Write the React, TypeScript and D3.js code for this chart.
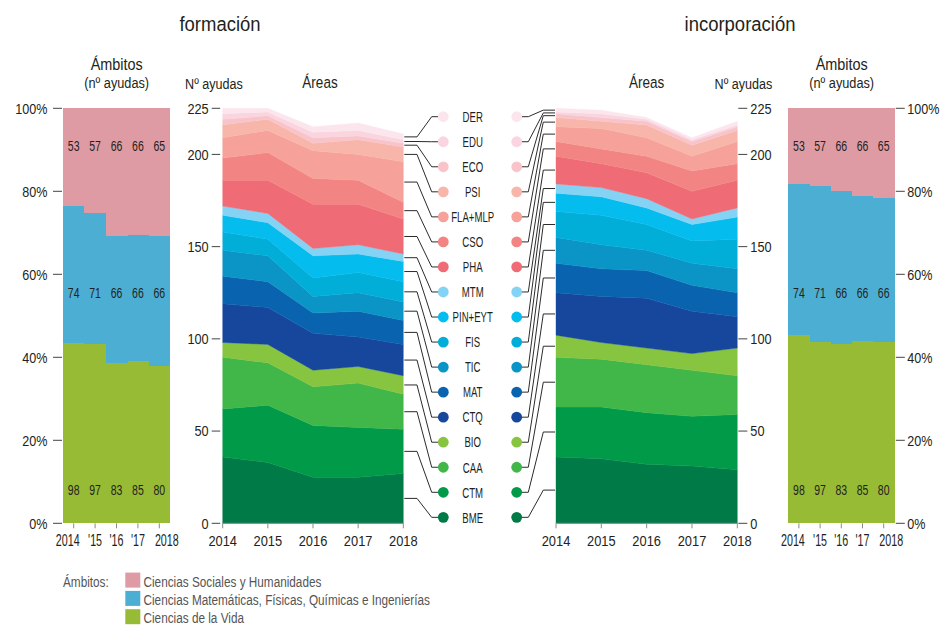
import React from 'react';
import * as d3 from 'd3';

const years = [2014, 2015, 2016, 2017, 2018];
const ambitoYearLabels = ['2014', "'15", "'16", "'17", '2018'];

// areas from bottom to top of the stack
const areaKeys = ['BME', 'CTM', 'CAA', 'BIO', 'CTQ', 'MAT', 'TIC', 'FIS', 'PIN+EYT', 'MTM', 'PHA', 'CSO', 'FLA+MLP', 'PSI', 'ECO', 'EDU', 'DER'];
const areaColors = ['#007a46', '#009a48', '#41b649', '#87c540', '#16479d', '#0a63af', '#0b94c6', '#00aed8', '#05bcef', '#84d3f4', '#ef6b76', '#f28583', '#f6a199', '#f8b6aa', '#f8c4c9', '#fad4df', '#fce6ee'];
// 0 = Vida, 1 = Mat/Fís/Quím/Ing, 2 = Sociales y Humanidades
const areaAmbito = [0, 0, 0, 0, 1, 1, 1, 1, 1, 1, 2, 2, 2, 2, 2, 2, 2];

// nº ayudas por área, formación (rows follow areaKeys)
const formacion = [
  [36, 33, 25, 25, 27], // BME
  [26, 31, 28, 27, 24], // CTM
  [28, 23, 21, 24, 19], // CAA
  [8, 10, 9, 9, 10],    // BIO
  [21, 20, 20, 16, 17], // CTQ
  [15, 14, 11, 14, 13], // MAT
  [14, 14, 9, 10, 10],  // TIC
  [10, 9, 10, 11, 11],  // FIS
  [9, 9, 12, 10, 11],   // PIN+EYT
  [5, 5, 4, 5, 4],      // MTM
  [14, 18, 24, 22, 19], // PHA
  [12, 15, 14, 13, 9],  // CSO
  [11, 12, 15, 14, 22], // FLA+MLP
  [7, 6, 4, 8, 8],      // PSI
  [3, 2, 3, 2, 2],      // ECO
  [3, 2, 3, 3, 2],      // EDU
  [3, 2, 3, 4, 3],      // DER
];

// nº ayudas por área, incorporación
const incorporacion = [
  [36, 35, 32, 31, 29], // BME
  [27, 28, 28, 27, 30], // CTM
  [27, 26, 26, 25, 21], // CAA
  [12, 9, 9, 9, 15],    // BIO
  [23, 25, 27, 23, 17], // CTQ
  [16, 15, 15, 14, 13], // MAT
  [14, 13, 11, 12, 13], // TIC
  [14, 16, 14, 12, 16], // FIS
  [10, 10, 9, 9, 12],   // PIN+EYT
  [5, 5, 5, 3, 5],      // MTM
  [15, 13, 14, 15, 15], // PHA
  [8, 8, 9, 11, 9],     // CSO
  [8, 11, 10, 8, 12],   // FLA+MLP
  [5, 4, 7, 6, 6],      // PSI
  [2, 2, 2, 2, 2],      // ECO
  [1, 2, 1, 1, 1],      // EDU
  [2, 2, 1, 1, 2],      // DER
];

const ambitoVida = [98, 97, 83, 85, 80];
const ambitoMat = [74, 71, 66, 66, 66];
const ambitoSoc = [53, 57, 66, 66, 65];
const ambitoNames = ['Ciencias de la Vida', 'Ciencias Matemáticas, Físicas, Químicas e Ingenierías', 'Ciencias Sociales y Humanidades'];
const ambitoColors = ['#97bb34', '#4daed3', '#df9ba3'];

const areaTicks = [0, 50, 100, 150, 200, 225];
const pctTicks = [0, 20, 40, 60, 80, 100];

const FONT = '"Liberation Sans", Arial, sans-serif';
const INK = '#231f20';

const Y0 = 523.3;
const Y1 = 108.3;
const yCount = d3.scaleLinear().domain([0, 225]).range([Y0, Y1]);
const yShare = d3.scaleLinear().domain([0, 1]).range([Y0, Y1]);

// condensed look: squeeze a regular sans horizontally
const Txt = ({ x, y, anchor = 'start', size = 15, sx = 0.82, fill = INK, dy, children }: any) => (
  <text
    transform={`translate(${x},${y}) scale(${sx},1)`}
    textAnchor={anchor}
    fontSize={size}
    dy={dy}
    fill={fill}
  >{children}</text>
);

function stackAreas(rows: number[][]) {
  const table = years.map((year, j) => {
    const o: any = { year };
    areaKeys.forEach((k, i) => { o[k] = rows[i][j]; });
    return o;
  });
  return d3.stack<any>().keys(areaKeys)(table);
}

const AreaChart = ({ rows, x0, x1, side }: { rows: number[][]; x0: number; x1: number; side: 'left' | 'right' }) => {
  const x = d3.scaleLinear().domain([2014, 2018]).range([x0, x1]);
  const series = stackAreas(rows);
  const area = d3.area<any>()
    .x(d => x(d.data.year))
    .y0(d => yCount(d[0]))
    .y1(d => yCount(d[1]));
  const tx0 = side === 'left' ? x0 - 11 : x1 + 1;
  const tx1 = side === 'left' ? x0 - 2.5 : x1 + 10;
  return (
    <g>
      {series.map((s, i) => (
        <path key={s.key} d={area(s) || ''} fill={areaColors[i]} stroke={areaColors[i]} strokeWidth={0.4} />
      ))}
      <line x1={x0} x2={x1} y1={Y0} y2={Y0} stroke="#8a8a8a" strokeWidth={1} />
      {years.map(yr => (
        <g key={yr}>
          <line x1={x(yr)} x2={x(yr)} y1={Y0} y2={Y0 + 5} stroke="#8a8a8a" />
          <Txt x={x(yr)} y={546} anchor="middle" size={15.5} sx={0.83}>{yr}</Txt>
        </g>
      ))}
      {areaTicks.map(t => (
        <g key={t}>
          <line x1={tx0} x2={tx1} y1={yCount(t)} y2={yCount(t)} stroke="#444" strokeWidth={1} />
          <Txt
            x={side === 'left' ? tx0 - 3 : tx1 + 3}
            y={yCount(t)}
            dy="0.35em"
            anchor={side === 'left' ? 'end' : 'start'}
            size={15}
            sx={0.85}
          >{t}</Txt>
        </g>
      ))}
    </g>
  );
};

const AmbitoBars = ({ shares, x0, x1, side }: { shares: number[][]; x0: number; x1: number; side: 'left' | 'right' }) => {
  const x = d3.scaleBand<number>().domain(years).range([x0, x1]).padding(0);
  const table = years.map((year, j) => ({ year, vida: shares[0][j], mat: shares[1][j], soc: shares[2][j] }));
  const series = d3.stack<any>().keys(['vida', 'mat', 'soc']).offset(d3.stackOffsetExpand)(table);
  const labels = [ambitoVida, ambitoMat, ambitoSoc];
  const labelAt = [0.08, 0.555, 0.91];
  const tx0 = side === 'left' ? x0 - 10 : x1 + 1.5;
  const tx1 = side === 'left' ? x0 - 1 : x1 + 10.5;
  return (
    <g>
      {series.map((s, i) => (
        <g key={s.key}>
          {s.map((d: any) => (
            <rect
              key={d.data.year}
              x={x(d.data.year)}
              width={x.bandwidth() + 0.3}
              y={yShare(d[1])}
              height={yShare(d[0]) - yShare(d[1])}
              fill={ambitoColors[i]}
              shapeRendering="crispEdges"
            />
          ))}
        </g>
      ))}
      {labels.map((vals, i) => vals.map((v, j) => (
        <Txt
          key={`${i}-${j}`}
          x={(x(years[j]) as number) + x.bandwidth() / 2}
          y={yShare(labelAt[i])}
          dy="0.35em"
          anchor="middle"
          size={15}
          sx={0.7}
        >{v}</Txt>
      )))}
      {years.map((yr, j) => {
        const cx = (x(yr) as number) + x.bandwidth() / 2;
        const lx = j === 0 ? cx - 6 : j === years.length - 1 ? cx + 7.5 : cx;
        return (
          <g key={yr}>
            <line x1={cx} x2={cx} y1={Y0} y2={Y0 + 5} stroke="#8a8a8a" />
            <Txt x={lx} y={545.5} anchor="middle" size={16} sx={0.67}>{ambitoYearLabels[j]}</Txt>
          </g>
        );
      })}
      {pctTicks.map(t => (
        <g key={t}>
          <line x1={tx0} x2={tx1} y1={yShare(t / 100)} y2={yShare(t / 100)} stroke="#444" />
          <Txt
            x={side === 'left' ? tx0 - 5.5 : tx1 + 2.5}
            y={yShare(t / 100)}
            dy="0.35em"
            anchor={side === 'left' ? 'end' : 'start'}
            size={15}
            sx={0.84}
          >{t}%</Txt>
        </g>
      ))}
    </g>
  );
};

const sumByAmbito = (rows: number[][]) =>
  [0, 1, 2].map(a => years.map((_, j) => d3.sum(rows.filter((_, i) => areaAmbito[i] === a), r => r[j])));

const Legend = () => {
  const leftSeries = stackAreas(formacion);
  const rightSeries = stackAreas(incorporacion);
  const n = areaKeys.length;
  const rowY = (i: number) => 116.7 + (n - 1 - i) * 25.04;
  const line = d3.line();
  const lxEdge = 403.3;
  const rxEdge = 556;
  return (
    <g>
      {areaKeys.map((k, i) => {
        const last = leftSeries[i][years.length - 1];
        const first = rightSeries[i][0];
        const ly = yCount((last[0] + last[1]) / 2);
        const ry = yCount((first[0] + first[1]) / 2);
        const dy = rowY(i);
        const leftPath = line([[lxEdge + 1, ly], [417, ly], [431.7, dy], [438.5, dy]]);
        const rightPath = line([[521.5, dy], [528.3, dy], [543.3, ry], [rxEdge - 1, ry]]);
        return (
          <g key={k}>
            <path d={leftPath || ''} fill="none" stroke="#2b2b2b" strokeWidth={1} />
            <path d={rightPath || ''} fill="none" stroke="#2b2b2b" strokeWidth={1} />
            <circle cx={443.3} cy={dy} r={5.4} fill={areaColors[i]} />
            <circle cx={516.7} cy={dy} r={5.4} fill={areaColors[i]} />
            <Txt x={472.7} y={dy} dy="0.35em" anchor="middle" size={15} sx={0.64}>{k}</Txt>
          </g>
        );
      })}
    </g>
  );
};

export default function App() {
  const leftShares = [ambitoVida, ambitoMat, ambitoSoc];
  const rightShares = sumByAmbito(incorporacion);
  const legendOrder = [2, 1, 0];
  const rowGap = 18.3;
  return (
    <div style={{ position: 'absolute', left: 0, top: 0, width: 951, height: 625, background: '#fff' }}>
      <svg width={951} height={625} style={{ display: 'block' }} fontFamily={FONT}>
        <Txt x={220} y={30.5} anchor="middle" size={21} sx={0.88}>formación</Txt>
        <Txt x={740} y={30.5} anchor="middle" size={21} sx={0.88}>incorporación</Txt>

        <Txt x={116.7} y={69.5} anchor="middle" size={17} sx={0.85}>Ámbitos</Txt>
        <Txt x={116.7} y={88} anchor="middle" size={15} sx={0.85}>(nº ayudas)</Txt>
        <Txt x={841.7} y={69.5} anchor="middle" size={17} sx={0.85}>Ámbitos</Txt>
        <Txt x={841.7} y={88} anchor="middle" size={15} sx={0.85}>(nº ayudas)</Txt>

        <Txt x={214} y={89} anchor="middle" size={15} sx={0.84}>Nº ayudas</Txt>
        <Txt x={320} y={87.5} anchor="middle" size={16.5} sx={0.82}>Áreas</Txt>
        <Txt x={743.5} y={89} anchor="middle" size={15} sx={0.84}>Nº ayudas</Txt>
        <Txt x={646.7} y={87.5} anchor="middle" size={16.5} sx={0.82}>Áreas</Txt>

        <AmbitoBars shares={leftShares} x0={63} x1={170} side="left" />
        <AreaChart rows={formacion} x0={222.7} x1={403.3} side="left" />
        <Legend />
        <AreaChart rows={incorporacion} x0={556} x1={737.3} side="right" />
        <AmbitoBars shares={rightShares} x0={788.3} x1={894.3} side="right" />

        <Txt x={63} y={587} size={15.5} sx={0.76} fill="#555">Ámbitos:</Txt>
        {legendOrder.map((a, r) => (
          <g key={a}>
            <rect x={125.3} y={572.6 + r * rowGap} width={15} height={15} fill={ambitoColors[a]} />
            <Txt x={143.5} y={586.5 + r * rowGap} size={15.5} sx={0.76} fill="#555">{ambitoNames[a]}</Txt>
          </g>
        ))}
      </svg>
    </div>
  );
}
